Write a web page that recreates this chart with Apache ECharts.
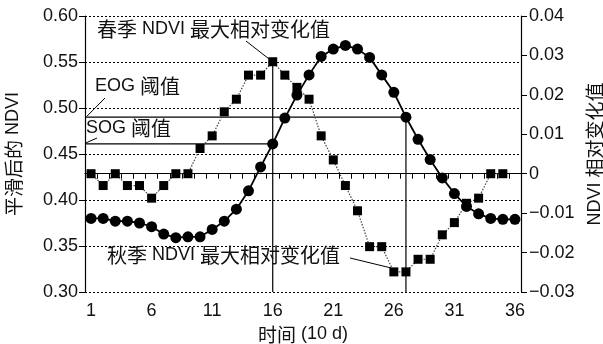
<!DOCTYPE html>
<html>
<head>
<meta charset="utf-8">
<script src="https://cdn.jsdelivr.net/npm/echarts@6/dist/echarts.min.js"></script>
<style>
html,body{margin:0;padding:0;background:#fff;overflow:hidden;}
#c{width:603px;height:344px;}
</style>
</head>
<body>
<div id="c"></div>
<script>
// ---- data ----
const days = ['1','2','3','4','5','6','7','8','9','10','11','12','13','14','15','16','17','18','19','20','21','22','23','24','25','26','27','28','29','30','31','32','33','34','35','36'];
const smoothNdvi = [0.380,0.380,0.377,0.377,0.375,0.371,0.363,0.359,0.360,0.360,0.368,0.377,0.390,0.410,0.436,0.461,0.489,0.514,0.536,0.556,0.564,0.568,0.564,0.555,0.536,0.517,0.490,0.466,0.444,0.424,0.407,0.393,0.385,0.380,0.379,0.379];
const ndviChange = [0.000,-0.003,0.000,-0.003,-0.003,-0.0062,-0.003,0.000,0.000,0.0064,0.0096,0.0157,0.0189,0.025,0.025,0.0284,0.025,0.0219,0.0189,0.0096,0.0035,-0.003,-0.0094,-0.0185,-0.0185,-0.0249,-0.0249,-0.0217,-0.0217,-0.0155,-0.0124,-0.0075,-0.0062,0.000,0.000];
const sogDay = 16, eogDay = 27;
const sogValue = 0.461, eogValue = 0.490;
const springMaxDay = 16, autumnMaxDay = 26;
const leftTicks = {min:0.30, max:0.60, interval:0.05};
const rightTicks = {min:-0.03, max:0.04, interval:0.01};
const labels = {
  spring: ['春季', 'NDVI', '最大相对变化值'],
  autumn: ['秋季', 'NDVI', '最大相对变化值'],
  eog: ['EOG', '阈值'], sog: ['SOG', '阈值']
};

const FONT = "'Liberation Sans', Arial, 'Noto Sans CJK SC', sans-serif";
const CJK = "'Noto Sans CJK SC', 'Liberation Sans', sans-serif";
const INK = '#111';

const chart = echarts.init(document.getElementById('c'), null, {renderer:'canvas', width:603, height:344});

const richName = {
  c: {fontFamily: CJK, fontSize: 19, color: INK},
  l: {fontFamily: FONT, fontSize: 18, color: INK}
};

const minus = v => (v < 0 ? '\u2212' : '') + Math.abs(v).toFixed(2);

const lineSeries = (data, yIdx) => ({
  type: 'line', xAxisIndex: 1, yAxisIndex: yIdx, data: data,
  symbol: 'none', silent: true, z: 1, animation: false,
  lineStyle: {color: '#000', width: 1.2}
});

chart.setOption({
  animation: false,
  backgroundColor: '#fff',
  textStyle: {fontFamily: FONT},
  grid: {left: 85, right: 82, top: 16, bottom: 52, containLabel: false, outerBoundsMode: 'none'},
  xAxis: [{
    type: 'category', data: days, boundaryGap: true,
    name: '{c|时间}{l| (10 d)}', nameLocation: 'middle', nameGap: 31,
    nameTextStyle: {rich: richName},
    axisLine: {show: true, lineStyle: {color: '#000', width: 1.2}},
    axisTick: {show: true, interval: 0, alignWithLabel: false, length: 5, lineStyle: {color: '#000'}},
    axisLabel: {interval: 4, fontSize: 18, color: INK, fontFamily: FONT, margin: 10},
    splitLine: {show: false}
  }, {
    type: 'value', min: 0.5, max: 36.5, show: false
  }],
  yAxis: [{
    type: 'value', min: leftTicks.min, max: leftTicks.max, interval: leftTicks.interval,
    name: '{c|平滑后的}{l| NDVI}', nameLocation: 'middle', nameRotate: 90, nameGap: 62,
    nameTextStyle: {rich: richName},
    axisLine: {show: true, lineStyle: {color: '#000', width: 1.2}},
    axisTick: {show: true, length: 6, lineStyle: {color: '#000'}},
    axisLabel: {fontSize: 18, color: INK, fontFamily: FONT, margin: 7, formatter: v => v.toFixed(2)},
    splitLine: {show: true, lineStyle: {color: '#000', type: [2, 2], width: 1}}
  }, {
    type: 'value', position: 'right', min: rightTicks.min, max: rightTicks.max, interval: rightTicks.interval,
    name: '{l|NDVI }{c|相对变化值}', nameLocation: 'middle', nameRotate: 90, nameGap: 61,
    nameTextStyle: {rich: richName},
    axisLine: {show: true, lineStyle: {color: '#000', width: 1.2}},
    axisTick: {show: true, length: 6, lineStyle: {color: '#000'}},
    axisLabel: {fontSize: 18, color: INK, fontFamily: FONT, margin: 8,
      formatter: v => Math.abs(v) < 1e-9 ? '0' : minus(v)},
    splitLine: {show: false}
  }],
  series: [
    lineSeries([[0.5, sogValue], [sogDay, sogValue]], 0),
    lineSeries([[0.5, eogValue], [eogDay, eogValue]], 0),
    lineSeries([[eogDay, leftTicks.min], [eogDay, eogValue]], 0),
    lineSeries([[springMaxDay, rightTicks.min], [springMaxDay, ndviChange[springMaxDay - 1]]], 1),
    {
      name: 'change', type: 'line', xAxisIndex: 0, yAxisIndex: 1, data: ndviChange,
      symbol: 'rect', symbolSize: 9, showAllSymbol: true, z: 3,
      itemStyle: {color: '#000'},
      lineStyle: {color: '#444', width: 1.2, type: [1.5, 1.5]}
    },
    {
      name: 'smooth', type: 'line', xAxisIndex: 0, yAxisIndex: 0, data: smoothNdvi,
      symbol: 'circle', symbolSize: 11, showAllSymbol: true, z: 4,
      itemStyle: {color: '#000'},
      lineStyle: {color: '#000', width: 1.8}
    }
  ]
});

// ---- annotations (text + leader lines) ----
const px = (seriesIndex, pt) => chart.convertToPixel({seriesIndex: seriesIndex}, pt);
const springPt = px(4, [springMaxDay - 1, ndviChange[springMaxDay - 1]]);
const autumnPt = px(4, [autumnMaxDay - 1, ndviChange[autumnMaxDay - 1]]);
const eogPt = px(1, [0.5, eogValue]);
const sogPt = px(0, [0.5, sogValue]);

const rich = {
  c: {fontFamily: CJK, fontSize: 20, fill: INK, verticalAlign: 'middle'},
  l: {fontFamily: FONT, fontSize: 18, fill: INK, verticalAlign: 'middle'}
};
const ann = (parts, x, y) => ({
  type: 'text', x: x, y: y, z: 10, silent: true,
  style: {
    text: parts.map((p, i) => {
      const sp = i < parts.length - 1 ? ' ' : '';
      return /^[A-Za-z]/.test(p) ? '{l|' + p + sp + '}' : '{c|' + p + '}{l|' + sp + '}';
    }).join(''),
    rich: rich, verticalAlign: 'middle', align: 'left'
  }
});
const leader = (x1, y1, x2, y2) => ({
  type: 'line', z: 10, silent: true,
  shape: {x1: x1, y1: y1, x2: x2, y2: y2},
  style: {stroke: '#000', lineWidth: 1}
});

chart.setOption({
  graphic: [
    ann(labels.spring, 97, 29),
    leader(246, 41, springPt[0] - 4, springPt[1] - 3),
    ann(labels.autumn, 107, 255),
    leader(350, 258, autumnPt[0] - 3, autumnPt[1] - 4),
    ann(labels.eog, 95, 86),
    leader(105, 98, eogPt[0] + 2, eogPt[1] - 1),
    ann(labels.sog, 86, 128),
    leader(97, 138, sogPt[0] + 1, sogPt[1] - 1)
  ]
});
</script>
</body>
</html>
